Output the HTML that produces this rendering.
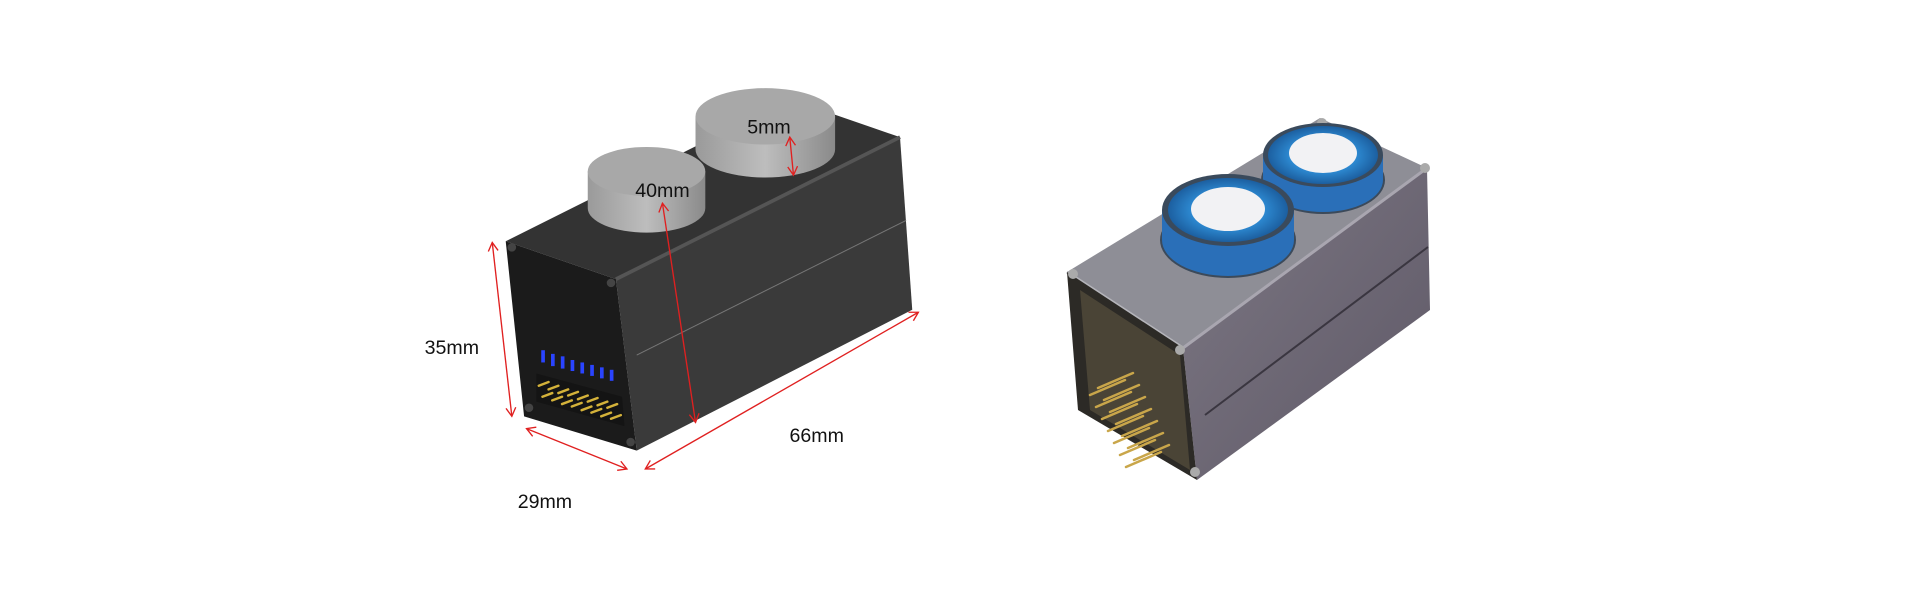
<!DOCTYPE html>
<html><head><meta charset="utf-8"><style>
html,body{margin:0;padding:0;background:#fff;width:1920px;height:600px;overflow:hidden}
svg{display:block}
text{font-family:"Liberation Sans",Arial,sans-serif;fill:#111}
</style></head><body>
<svg width="1920" height="600" viewBox="0 0 1920 600" xmlns="http://www.w3.org/2000/svg">
<defs>
<marker id="ar" markerWidth="10" markerHeight="10" refX="8" refY="5" orient="auto-start-reverse" markerUnits="userSpaceOnUse">
<path d="M1,1 L8,5 L1,9" fill="none" stroke="#e02020" stroke-width="1.1"/></marker>
<linearGradient id="cyl" x1="0" x2="1" y1="0" y2="0">
<stop offset="0" stop-color="#9a9a9a"/><stop offset="0.5" stop-color="#bdbdbd"/><stop offset="1" stop-color="#8a8a8a"/></linearGradient>
<linearGradient id="side2" x1="0" x2="1" y1="0" y2="1">
<stop offset="0" stop-color="#7d7884"/><stop offset="1" stop-color="#5e5866"/></linearGradient>
<radialGradient id="blue" cx="0.5" cy="0.5" r="0.5">
<stop offset="0.55" stop-color="#2f8fd8"/><stop offset="1" stop-color="#1c5fa0"/></radialGradient>
</defs>

<g transform="scale(1.22449)">
<polygon points="503,228 735,112 745,253 520,368" fill="#3a3a3a"/>
<polygon points="413,197 645,81 735,112 503,228" fill="#333"/>
<line x1="503" y1="228" x2="735" y2="112" stroke="#555" stroke-width="3"/>
<polygon points="413,197 503,228 520,368 428,340" fill="#1b1b1b"/>
<line x1="520" y1="290" x2="740" y2="180" stroke="#777" stroke-width="0.8"/>
<circle cx="418" cy="202" r="3.5" fill="#444"/><circle cx="499" cy="231" r="3.5" fill="#444"/>
<circle cx="432" cy="333" r="3.5" fill="#444"/><circle cx="515" cy="361" r="3.5" fill="#444"/>
<polygon points="438,305 508,324 510,348 438,328" fill="#141414"/>
<g stroke="#d4b23a" stroke-width="2" stroke-linecap="round">
<line x1="440" y1="315" x2="448" y2="312"/><line x1="448" y1="318" x2="456" y2="315"/><line x1="456" y1="321" x2="464" y2="318"/><line x1="464" y1="323" x2="472" y2="320"/><line x1="472" y1="326" x2="480" y2="323"/><line x1="480" y1="328" x2="488" y2="325"/><line x1="488" y1="331" x2="496" y2="328"/><line x1="496" y1="333" x2="504" y2="330"/>
<line x1="443" y1="324" x2="451" y2="321"/><line x1="451" y1="327" x2="459" y2="324"/><line x1="459" y1="330" x2="467" y2="327"/><line x1="467" y1="332" x2="475" y2="329"/><line x1="475" y1="335" x2="483" y2="332"/><line x1="483" y1="337" x2="491" y2="334"/><line x1="491" y1="340" x2="499" y2="337"/><line x1="499" y1="342" x2="507" y2="339"/>
</g>
<g fill="#2a44ff">
<rect x="442" y="286" width="3" height="10"/><rect x="450" y="289" width="3" height="10"/><rect x="458" y="291" width="3" height="10"/><rect x="466" y="294" width="3" height="9"/><rect x="474" y="296" width="3" height="9"/><rect x="482" y="298" width="3" height="9"/><rect x="490" y="300" width="3" height="9"/><rect x="498" y="302" width="3" height="9"/>
</g>
<path d="M568,95 L568,122 A57,23 0 0 0 682,122 L682,95 Z" fill="url(#cyl)"/>
<ellipse cx="625" cy="95" rx="57" ry="23" fill="#a8a8a8"/>
<path d="M480,140 L480,170 A48,20 0 0 0 576,170 L576,140 Z" fill="url(#cyl)"/>
<ellipse cx="528" cy="140" rx="48" ry="20" fill="#a8a8a8"/>
<g stroke="#e02020" stroke-width="1.1" fill="none" marker-start="url(#ar)" marker-end="url(#ar)">
<line x1="402" y1="198" x2="418" y2="340"/>
<line x1="430" y1="350" x2="512" y2="383"/>
<line x1="527" y1="383" x2="750" y2="255"/>
<line x1="541" y1="166" x2="568" y2="345"/>
<line x1="645" y1="112" x2="648" y2="143"/>
</g>
<text x="628" y="109" font-size="16" text-anchor="middle">5mm</text>
<text x="541" y="161" font-size="16" text-anchor="middle">40mm</text>
<text x="369" y="289" font-size="16" text-anchor="middle">35mm</text>
<text x="667" y="361" font-size="16" text-anchor="middle">66mm</text>
<text x="445" y="415" font-size="16" text-anchor="middle">29mm</text>
</g>

<polygon points="1183,348 1427,168 1430,310 1197,480" fill="url(#side2)"/>
<line x1="1205" y1="415" x2="1428" y2="247" stroke="#3a3640" stroke-width="2"/>
<polygon points="1067,272 1320,118 1427,168 1183,348" fill="#8e8e96"/>
<line x1="1067" y1="272" x2="1183" y2="348" stroke="#b5b5bb" stroke-width="3"/>
<line x1="1183" y1="348" x2="1427" y2="168" stroke="#a9a6b0" stroke-width="3"/>
<polygon points="1067,272 1183,348 1197,480 1078,410" fill="#2c2a26"/>
<polygon points="1080,290 1180,355 1190,470 1090,410" fill="#4a4436"/>
<circle cx="1073" cy="274" r="5" fill="#aaa"/><circle cx="1180" cy="350" r="5" fill="#aaa"/>
<circle cx="1195" cy="472" r="5" fill="#aaa"/><circle cx="1322" cy="123" r="5" fill="#aaa"/><circle cx="1425" cy="168" r="5" fill="#aaa"/>
<g stroke="#c9a64a" stroke-width="2.5" stroke-linecap="round">
<line x1="1090" y1="395" x2="1125" y2="380"/><line x1="1096" y1="407" x2="1131" y2="392"/><line x1="1102" y1="419" x2="1137" y2="404"/><line x1="1108" y1="431" x2="1143" y2="416"/><line x1="1114" y1="443" x2="1149" y2="428"/><line x1="1120" y1="455" x2="1155" y2="440"/><line x1="1126" y1="467" x2="1161" y2="452"/>
<line x1="1098" y1="388" x2="1133" y2="373"/><line x1="1104" y1="400" x2="1139" y2="385"/><line x1="1110" y1="412" x2="1145" y2="397"/><line x1="1116" y1="424" x2="1151" y2="409"/><line x1="1122" y1="436" x2="1157" y2="421"/><line x1="1128" y1="448" x2="1163" y2="433"/><line x1="1134" y1="460" x2="1169" y2="445"/>
</g>
<ellipse cx="1323" cy="180" rx="62" ry="34" fill="#3c4a5a"/>
<rect x="1263" y="155" width="120" height="25" fill="#2a6fb8"/>
<ellipse cx="1323" cy="180" rx="60" ry="32" fill="#2a6fb8"/>
<ellipse cx="1323" cy="155" rx="60" ry="32" fill="#3a4a5c"/>
<ellipse cx="1323" cy="155" rx="55" ry="29" fill="url(#blue)"/>
<ellipse cx="1323" cy="153" rx="34" ry="20" fill="#f2f2f4"/>
<ellipse cx="1228" cy="240" rx="68" ry="38" fill="#3c4a5a"/>
<rect x="1162" y="210" width="132" height="30" fill="#2a6fb8"/>
<ellipse cx="1228" cy="240" rx="66" ry="36" fill="#2a6fb8"/>
<ellipse cx="1228" cy="210" rx="66" ry="36" fill="#3a4a5c"/>
<ellipse cx="1228" cy="210" rx="60" ry="32" fill="url(#blue)"/>
<ellipse cx="1228" cy="209" rx="37" ry="22" fill="#f2f2f4"/>
</svg>
</body></html>
